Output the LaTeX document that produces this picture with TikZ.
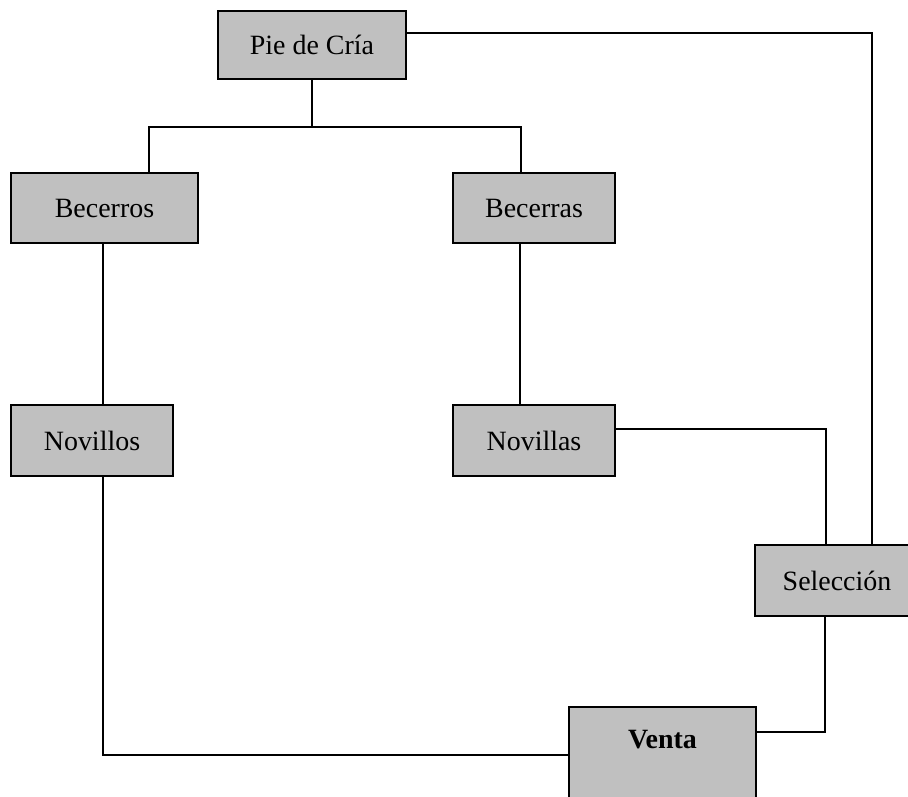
\documentclass[tikz,border=0pt]{standalone}
\usepackage{fontspec}
\setmainfont{Liberation Serif}
\definecolor{boxgray}{RGB}{192,192,192}
\begin{document}
\begin{tikzpicture}[x=0.02cm, y=-0.02cm]
\tikzstyle{every node}=[shape=rectangle, draw, line width=1.1pt, fill=boxgray, inner sep=0pt, font=\fontsize{15.9}{19}\selectfont]
\clip (0,0) rectangle (908,796);
\node[minimum width=3.76cm, minimum height=1.36cm] (PC) at (312, 45) {Pie de Cría};
\node[minimum width=3.74cm, minimum height=1.40cm] (BO) at (104.5, 208) {Becerros};
\node[minimum width=3.24cm, minimum height=1.40cm] (BA) at (534, 208) {Becerras};
\node[minimum width=3.24cm, minimum height=1.42cm] (NO) at (92, 440.5) {Novillos};
\node[minimum width=3.24cm, minimum height=1.42cm] (NA) at (534, 440.5) {Novillas};
\node[minimum width=3.28cm, minimum height=1.42cm] (SE) at (837, 580.5) {Selección};
\node[minimum width=3.74cm, text height=0.82cm, text depth=1.84cm, font=\fontsize{15.9}{19}\selectfont\bfseries] (VE) at (662.5, 773.5) {Venta};
\coordinate (fork) at (313, 127);
\draw [line width=0.8pt] (PC.south) -- (PC.south |- fork);
\draw [line width=0.8pt] ([xshift=0.89cm]BO.north) |- (fork) -| ([xshift=-0.26cm]BA.north);
\draw [line width=0.8pt] ([yshift=0.24cm]PC.east) -| ([xshift=0.7cm]SE.north);
\draw [line width=0.8pt] ([xshift=-0.03cm]BO.south) -- ([xshift=-0.03cm]BO.south |- NO.north);
\draw [line width=0.8pt] ([xshift=-0.28cm]BA.south) -- ([xshift=-0.28cm]BA.south |- NA.north);
\draw [line width=0.8pt] ([yshift=0.23cm]NA.east) -| ([xshift=-0.22cm]SE.north);
\draw [line width=0.8pt] ([xshift=-0.24cm]SE.south) |- ([yshift=0.83cm]VE.east);
\draw [line width=0.8pt] ([xshift=0.22cm]NO.south) |- ([yshift=0.37cm]VE.west);
\end{tikzpicture}
\end{document}
